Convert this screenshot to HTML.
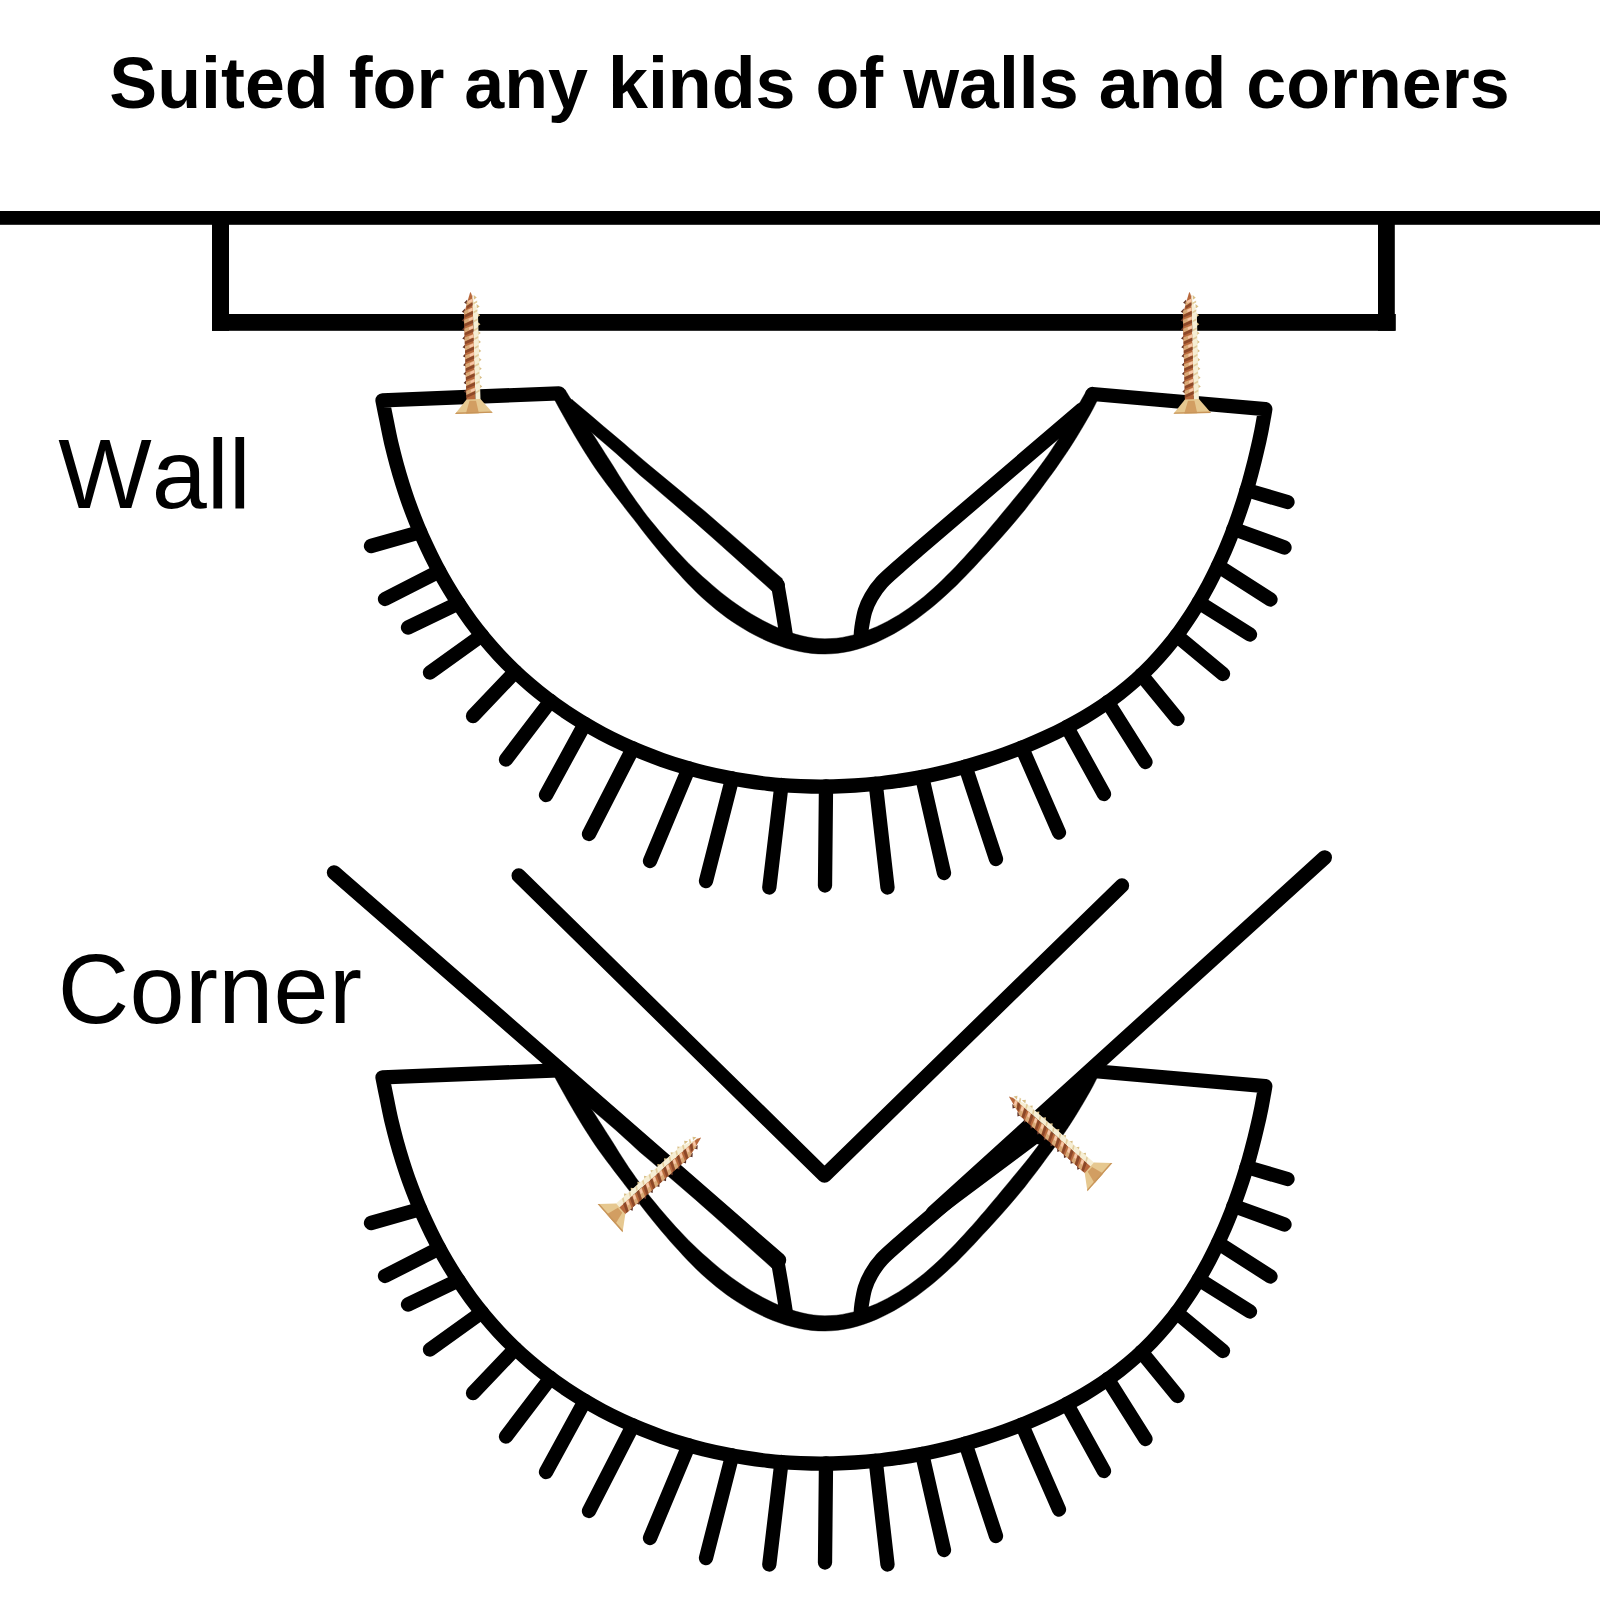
<!DOCTYPE html>
<html lang="en">
<head>
<meta charset="utf-8">
<title>Suited for any kinds of walls and corners</title>
<style>
html,body{margin:0;padding:0;background:#fff;}
body{width:1600px;height:1600px;overflow:hidden;position:relative;}
svg{position:absolute;left:0;top:0;display:block;}
text{font-family:"Liberation Sans",Arial,Helvetica,sans-serif;fill:#000;font-kerning:none;}
.title{font-weight:bold;font-size:71.8px;}
.label{font-size:99px;}
</style>
</head>
<body>
<svg width="1600" height="1600" viewBox="0 0 1600 1600">
<defs>
<g id="hook">
<path d="M558.8 393.3 L382.5 400.3C383.2 403.8 385.3 414.5 386.8 421.6C388.2 428.7 389.6 435.8 391.2 442.9C392.9 450.0 394.7 457.1 396.6 464.1C398.5 471.1 400.6 478.1 402.8 485.1C405.0 492.0 407.3 499.0 409.8 505.8C412.3 512.7 415.0 519.5 417.7 526.2C420.5 533.0 423.5 539.7 426.6 546.2C429.6 552.8 432.9 559.4 436.3 565.8C439.7 572.2 443.2 578.6 446.9 584.9C450.6 591.1 454.4 597.3 458.4 603.3C462.4 609.4 466.5 615.3 470.8 621.2C475.1 627.0 479.6 632.7 484.2 638.3C488.8 643.8 493.6 649.3 498.5 654.6C503.4 659.9 508.5 665.1 513.8 670.1C519.0 675.1 524.4 680.0 530.0 684.7C535.5 689.5 541.2 694.0 547.0 698.4C552.8 702.8 558.8 707.1 564.8 711.2C570.9 715.2 577.0 719.2 583.3 722.9C589.5 726.7 595.9 730.3 602.3 733.7C608.7 737.1 615.2 740.3 621.8 743.4C628.4 746.5 635.1 749.4 641.8 752.2C648.5 754.9 655.3 757.5 662.1 759.9C668.9 762.3 675.8 764.5 682.8 766.6C689.7 768.7 696.7 770.6 703.7 772.4C710.8 774.1 717.9 775.7 725.0 777.1C732.1 778.6 739.2 779.8 746.4 780.9C753.6 782.0 760.8 783.0 768.0 783.8C775.2 784.5 782.4 785.2 789.7 785.6C796.9 786.1 804.2 786.4 811.4 786.5C818.7 786.7 826.0 786.6 833.2 786.5C840.5 786.3 847.8 786.0 855.0 785.5C862.3 785.0 869.5 784.4 876.8 783.6C884.0 782.9 891.2 781.9 898.5 780.9C905.7 779.8 912.9 778.6 920.0 777.2C927.2 775.9 934.4 774.3 941.5 772.7C948.6 771.1 955.7 769.3 962.8 767.3C969.8 765.4 976.9 763.3 983.8 761.1C990.8 758.9 997.8 756.6 1004.7 754.1C1011.6 751.7 1018.4 749.1 1025.2 746.3C1032.0 743.6 1038.7 740.7 1045.4 737.6C1052.0 734.6 1058.6 731.4 1065.0 728.0C1071.5 724.7 1077.8 721.1 1084.1 717.5C1090.3 713.8 1096.4 709.9 1102.4 705.9C1108.3 701.9 1114.2 697.7 1119.8 693.3C1125.5 688.9 1131.0 684.3 1136.4 679.5C1141.7 674.8 1146.9 669.8 1151.8 664.7C1156.8 659.5 1161.6 654.2 1166.2 648.7C1170.8 643.2 1175.2 637.5 1179.5 631.7C1183.8 625.8 1187.8 619.8 1191.8 613.7C1195.7 607.6 1199.4 601.4 1203.0 595.0C1206.6 588.7 1210.1 582.2 1213.3 575.6C1216.6 569.1 1219.7 562.4 1222.7 555.7C1225.7 549.0 1228.5 542.1 1231.2 535.3C1233.9 528.4 1236.4 521.5 1238.8 514.5C1241.2 507.6 1243.5 500.6 1245.6 493.6C1247.8 486.5 1249.8 479.5 1251.6 472.4C1253.5 465.4 1255.3 458.4 1256.9 451.3C1258.6 444.3 1260.1 437.4 1261.5 430.3C1262.9 423.3 1264.7 412.6 1265.3 409.1L1092.5 394.0" fill="none" stroke="#000" stroke-width="14.3" stroke-linejoin="round" stroke-linecap="round"/>
<path d="M564.0 408.9L574.4 417.7L584.8 426.6L595.2 435.5L605.5 444.3L615.9 453.2L620.6 457.5L625.5 461.9L630.3 466.3L635.1 470.7L640.0 475.2L651.1 484.6L662.1 494.1L673.2 503.5L684.2 513.0L695.2 522.4L703.1 529.4L711.1 536.5L719.0 543.6L727.0 550.7L734.9 557.8L742.3 564.4L749.7 571.1L757.2 577.7L764.6 584.3L772.0 591.0L782.6 579.0L775.1 572.5L767.6 565.9L760.1 559.3L752.6 552.8L745.1 546.2L737.0 539.2L729.0 532.2L720.9 525.3L712.9 518.3L704.8 511.2L693.5 501.9L682.4 492.6L671.2 483.3L660.0 474.1L648.8 464.8L644.0 460.7L639.0 456.4L634.1 452.2L629.1 447.9L624.1 443.6L613.7 434.8L603.2 426.0L592.8 417.1L582.4 408.3L572.0 399.5Z" fill="#000" stroke="#000" stroke-width="0.4" stroke-linejoin="round"/>
<circle cx="777.3" cy="585" r="7.6" fill="#000"/><circle cx="568" cy="404.2" r="6.1" fill="#000"/>
<path d="M777.8 585.0L781.7 607.5L784.7 626.2L786.4 637.0" fill="none" stroke="#000" stroke-width="13.6" stroke-linejoin="round" stroke-linecap="round"/>
<path d="M1082.0 409.5 L917.8 550.0C914.6 552.8 904.6 561.4 898.6 566.8C892.6 572.2 886.4 577.3 881.8 582.3C877.2 587.3 874.0 592.2 871.2 597.0C868.4 601.8 866.6 605.8 865.0 611.0C863.4 616.2 862.3 623.5 861.6 628.0C860.9 632.5 860.9 636.3 860.8 638.0" fill="none" stroke="#000" stroke-width="14.6" stroke-linejoin="round" stroke-linecap="round"/>
<path d="M552.9 396.5L555.9 402.2L559.0 407.9L562.1 413.5L565.2 419.1L568.4 424.7L571.6 430.2L574.8 435.8L578.1 441.3L581.4 446.7L584.8 452.2L588.2 457.5L591.7 462.9L595.2 468.2L598.9 473.4L602.6 478.6L606.4 483.7L610.3 488.8L614.1 493.9L618.0 498.9L621.9 504.0L625.7 509.1L629.6 514.1L633.6 519.1L637.5 524.1L641.4 529.2L645.3 534.3L649.3 539.3L653.3 544.3L657.4 549.2L661.5 554.2L665.7 559.1L669.9 564.0L674.2 568.8L678.6 573.6L683.0 578.4L687.5 583.2L692.0 587.8L696.6 592.4L701.4 596.9L706.2 601.3L711.2 605.5L716.2 609.7L721.4 613.8L726.6 617.7L732.0 621.4L737.5 625.1L743.2 628.6L748.9 631.9L754.7 635.1L760.7 638.1L766.8 640.9L772.9 643.5L779.2 645.8L785.5 647.9L792.0 649.7L798.5 651.3L805.0 652.5L811.6 653.4L818.2 653.9L824.9 654.1L831.5 653.8L838.1 653.2L844.7 652.2L851.2 650.9L857.7 649.2L864.0 647.2L870.3 644.9L876.5 642.4L882.6 639.6L888.6 636.6L894.5 633.4L900.2 630.0L905.9 626.5L911.4 622.8L916.9 619.0L922.1 615.1L927.3 611.1L932.4 607.0L937.4 602.8L942.2 598.6L947.0 594.2L951.7 589.8L956.4 585.4L960.9 580.8L965.4 576.2L969.9 571.6L974.3 567.0L978.6 562.3L982.9 557.6L987.3 552.9L991.6 548.2L995.9 543.5L1000.2 538.8L1004.4 534.0L1008.6 529.2L1012.7 524.4L1016.9 519.5L1021.0 514.6L1025.0 509.7L1028.9 504.6L1032.8 499.6L1036.7 494.5L1040.5 489.4L1044.3 484.2L1048.1 479.1L1051.9 473.9L1055.7 468.7L1059.3 463.4L1063.0 458.1L1066.6 452.8L1070.1 447.4L1073.6 442.0L1077.0 436.6L1080.3 431.1L1083.6 425.6L1086.8 420.0L1090.0 414.4L1093.1 408.8L1096.0 403.1L1098.9 397.3L1086.5 390.8L1083.4 396.3L1080.3 401.8L1077.3 407.3L1074.2 412.8L1071.0 418.2L1067.8 423.6L1064.6 429.0L1061.3 434.4L1058.0 439.7L1054.6 444.9L1051.2 450.2L1047.7 455.4L1044.1 460.5L1040.4 465.6L1036.7 470.6L1032.9 475.6L1029.1 480.6L1025.1 485.5L1021.2 490.3L1017.1 495.2L1013.1 500.0L1009.1 504.9L1005.1 509.7L1001.1 514.6L997.1 519.4L993.0 524.2L989.0 529.0L984.9 533.9L980.8 538.6L976.7 543.4L972.5 548.2L968.3 552.8L964.1 557.5L959.8 562.1L955.5 566.7L951.1 571.2L946.7 575.6L942.3 580.0L937.8 584.3L933.2 588.5L928.6 592.6L923.8 596.7L919.0 600.5L914.0 604.3L909.0 608.0L903.8 611.5L898.6 614.9L893.2 618.1L887.7 621.2L882.2 624.0L876.6 626.7L870.9 629.1L865.2 631.3L859.5 633.2L853.7 634.9L847.9 636.2L842.2 637.4L836.4 638.2L830.6 638.6L824.9 638.8L819.1 638.5L813.4 637.9L807.6 637.0L801.9 635.8L796.2 634.3L790.5 632.6L784.8 630.5L779.1 628.3L773.5 625.8L768.0 623.1L762.5 620.3L757.2 617.3L751.8 614.2L746.6 610.9L741.5 607.5L736.4 604.0L731.4 600.4L726.5 596.7L721.6 592.9L716.8 588.9L712.1 584.9L707.4 580.8L702.7 576.7L698.1 572.4L693.5 568.1L689.0 563.7L684.7 559.2L680.3 554.6L676.0 550.0L671.8 545.3L667.6 540.5L663.5 535.8L659.4 531.0L655.4 526.1L651.4 521.3L647.5 516.4L643.7 511.4L640.0 506.3L636.3 501.2L632.7 496.1L629.1 491.0L625.7 485.7L622.3 480.5L618.9 475.2L615.6 469.8L612.3 464.5L608.9 459.2L605.5 453.9L602.1 448.6L598.7 443.3L595.4 438.0L591.9 432.7L588.5 427.4L585.2 422.0L581.8 416.7L578.4 411.3L575.0 405.9L571.7 400.5L568.3 395.0L565.0 389.6Z" fill="#000" stroke="#000" stroke-width="0.4" stroke-linejoin="round"/>
<path d="M371.0 546.0 L420.1 532.1M385.0 599.0 L439.1 571.4M408.0 627.5 L458.4 603.2M430.0 672.5 L481.9 635.3M473.0 716.0 L515.3 671.6M506.0 759.5 L550.5 701.0M546.0 795.0 L584.8 724.0M589.0 834.0 L632.9 748.4M650.0 861.0 L688.8 768.3M706.0 881.0 L732.2 778.4M769.3 887.5 L781.5 785.0M825.0 885.5 L826.0 786.5M887.5 887.5 L875.7 783.8M944.0 873.0 L922.1 776.9M996.0 859.0 L965.4 766.6M1059.0 832.5 L1021.9 747.6M1104.0 794.0 L1066.9 726.9M1145.5 762.0 L1107.7 702.1M1177.5 719.0 L1141.4 674.9M1223.0 674.0 L1176.6 635.5M1250.0 634.5 L1198.8 602.4M1270.5 599.5 L1218.2 565.9M1284.5 547.5 L1233.5 528.9M1287.5 502.0 L1246.6 490.0" fill="none" stroke="#000" stroke-width="14.3" stroke-linecap="round"/>
</g>
<g id="screw">
<path d="M-3.3 7.6 L-6.5 10.8 L-3.3 12.6 ZM-5.9 16.5 L-9.1 19.7 L-5.9 21.5 ZM-6.2 25.4 L-9.4 28.6 L-6.2 30.4 ZM-6.2 34.3 L-9.4 37.5 L-6.2 39.3 ZM-6.2 43.2 L-9.4 46.4 L-6.2 48.2 ZM-6.2 52.1 L-9.4 55.3 L-6.2 57.1 ZM-6.2 61.0 L-9.4 64.2 L-6.2 66.0 ZM-6.2 69.9 L-9.4 73.1 L-6.2 74.9 ZM-6.2 78.8 L-9.4 82.0 L-6.2 83.8 ZM-6.2 87.7 L-9.4 90.9 L-6.2 92.7 ZM-6.2 96.6 L-9.4 99.8 L-6.2 101.6 Z" fill="#5e3226"/>
<path d="M3.3 3.4 L6.3 6.0 L3.3 8.0 ZM5.9 12.3 L8.9 14.9 L5.9 16.9 ZM6.2 21.2 L9.2 23.8 L6.2 25.8 ZM6.2 30.1 L9.2 32.7 L6.2 34.7 ZM6.2 39.0 L9.2 41.6 L6.2 43.6 ZM6.2 47.9 L9.2 50.5 L6.2 52.5 ZM6.2 56.8 L9.2 59.4 L6.2 61.4 ZM6.2 65.7 L9.2 68.3 L6.2 70.3 ZM6.2 74.6 L9.2 77.2 L6.2 79.2 ZM6.2 83.5 L9.2 86.1 L6.2 88.1 ZM6.2 92.4 L9.2 95.0 L6.2 97.0 Z" fill="#d9bf88"/>
<path d="M0 0 L-1.6 5 L-7 22 L-7 109 L2 109 L2 4 Z" fill="#b8683c"/>
<path d="M0.3 1 L2 4 L2 109 L7 109 L7 22 L2.4 6 Z" fill="#f6eed4"/>
<path d="M-4.1 10.0 L2 6.6 L2 10.2 L-4.1 14.0 ZM-6.7 18.9 L2 15.5 L2 19.1 L-6.7 22.9 ZM-7.0 27.8 L2 24.4 L2 28.0 L-7.0 31.8 ZM-7.0 36.7 L2 33.3 L2 36.9 L-7.0 40.7 ZM-7.0 45.6 L2 42.2 L2 45.8 L-7.0 49.6 ZM-7.0 54.5 L2 51.1 L2 54.7 L-7.0 58.5 ZM-7.0 63.4 L2 60.0 L2 63.6 L-7.0 67.4 ZM-7.0 72.3 L2 68.9 L2 72.5 L-7.0 76.3 ZM-7.0 81.2 L2 77.8 L2 81.4 L-7.0 85.2 ZM-7.0 90.1 L2 86.7 L2 90.3 L-7.0 94.1 ZM-7.0 99.0 L2 95.6 L2 99.2 L-7.0 103.0 Z" fill="#d9aa78"/>
<path d="M-4.1 14.2 L2 10.4 L2 13.4 L-4.1 17.0 ZM-6.7 23.1 L2 19.3 L2 22.3 L-6.7 25.9 ZM-7.0 32.0 L2 28.2 L2 31.2 L-7.0 34.8 ZM-7.0 40.9 L2 37.1 L2 40.1 L-7.0 43.7 ZM-7.0 49.8 L2 46.0 L2 49.0 L-7.0 52.6 ZM-7.0 58.7 L2 54.9 L2 57.9 L-7.0 61.5 ZM-7.0 67.6 L2 63.8 L2 66.8 L-7.0 70.4 ZM-7.0 76.5 L2 72.7 L2 75.7 L-7.0 79.3 ZM-7.0 85.4 L2 81.6 L2 84.6 L-7.0 88.2 ZM-7.0 94.3 L2 90.5 L2 93.5 L-7.0 97.1 ZM-7.0 103.2 L2 99.4 L2 102.4 L-7.0 106.0 Z" fill="#8c4828"/>
<path d="M-2.4 9.0 L1.6 7.2 L1.6 9.8 L-2.4 11.4 ZM-2.4 17.9 L1.6 16.1 L1.6 18.7 L-2.4 20.3 ZM-2.4 26.8 L1.6 25.0 L1.6 27.6 L-2.4 29.2 ZM-2.4 35.7 L1.6 33.9 L1.6 36.5 L-2.4 38.1 ZM-2.4 44.6 L1.6 42.8 L1.6 45.4 L-2.4 47.0 ZM-2.4 53.5 L1.6 51.7 L1.6 54.3 L-2.4 55.9 ZM-2.4 62.4 L1.6 60.6 L1.6 63.2 L-2.4 64.8 ZM-2.4 71.3 L1.6 69.5 L1.6 72.1 L-2.4 73.7 ZM-2.4 80.2 L1.6 78.4 L1.6 81.0 L-2.4 82.6 ZM-2.4 89.1 L1.6 87.3 L1.6 89.9 L-2.4 91.5 ZM-2.4 98.0 L1.6 96.2 L1.6 98.8 L-2.4 100.4 Z" fill="#f9c6a8"/>
<path d="M2.6 11.0 L6.6 8.8 L6.6 10.8 L2.6 12.8 ZM2.6 19.9 L6.6 17.7 L6.6 19.7 L2.6 21.7 ZM2.6 28.8 L6.6 26.6 L6.6 28.6 L2.6 30.6 ZM2.6 37.7 L6.6 35.5 L6.6 37.5 L2.6 39.5 ZM2.6 46.6 L6.6 44.4 L6.6 46.4 L2.6 48.4 ZM2.6 55.5 L6.6 53.3 L6.6 55.3 L2.6 57.3 ZM2.6 64.4 L6.6 62.2 L6.6 64.2 L2.6 66.2 ZM2.6 73.3 L6.6 71.1 L6.6 73.1 L2.6 75.1 ZM2.6 82.2 L6.6 80.0 L6.6 82.0 L2.6 84.0 ZM2.6 91.1 L6.6 88.9 L6.6 90.9 L2.6 92.9 ZM2.6 100.0 L6.6 97.8 L6.6 99.8 L2.6 101.8 Z" fill="#e2cc9c"/>
<path d="M-7 107.5 L7 107.5 L18.8 121.6 L-18.8 121.6 Z" fill="#e6c890"/>
<path d="M-4 109 L2.5 109 L5 121.6 L-8 121.6 Z" fill="#d29e62"/>
<path d="M-18.8 121.6 L18.8 121.6 L17.6 120.2 L-17.6 120.2 Z" fill="#c8955a"/>
</g>
</defs>
<rect x="0" y="0" width="1600" height="1600" fill="#fff"/>
<text class="title" x="109.3" y="108">Suited for any kinds of walls and corners</text>
<text class="label" x="58.3" y="508">Wall</text>
<text class="label" x="57.8" y="1022.5" style="letter-spacing:0.3px">Corner</text>

<!-- wall outline -->
<rect x="0" y="211" width="1600" height="13.8" fill="#000"/>
<rect x="212" y="218" width="17" height="112.8" fill="#000"/>
<rect x="1378" y="218" width="16.8" height="112.8" fill="#000"/>
<rect x="212" y="314" width="1183.8" height="16.8" fill="#000"/>

<!-- wall-mounted hook -->
<use href="#hook"/>
<use href="#screw" transform="translate(470.3,291.8) rotate(-1.7)"/>
<use href="#screw" transform="translate(1189.3,291.8) rotate(-1.4)"/>

<!-- corner walls -->
<path d="M518.75 875.6 L824.5 1175.6 L1121.9 885.6" fill="none" stroke="#000" stroke-width="14.5" stroke-linejoin="round" stroke-linecap="round"/>
<path d="M334.1 872.5 L778.9 1260.1" fill="none" stroke="#000" stroke-width="14.6" stroke-linecap="round"/>
<path d="M1324.7 857.5 L933 1213" fill="none" stroke="#000" stroke-width="14.6" stroke-linecap="round"/>

<path d="M1070 1104 L1048 1147 L1037 1144 L960 1201.5 L916 1235 L916 1228 L1000 1160 Z" fill="#000"/>

<!-- corner-mounted hook -->
<use href="#hook" transform="translate(0,677)"/>
<use href="#screw" transform="translate(701.2,1137.5) rotate(48.5) scale(-1,1)"/>
<use href="#screw" transform="translate(1008.8,1096.6) rotate(-48.5)"/>
</svg>
</body>
</html>
